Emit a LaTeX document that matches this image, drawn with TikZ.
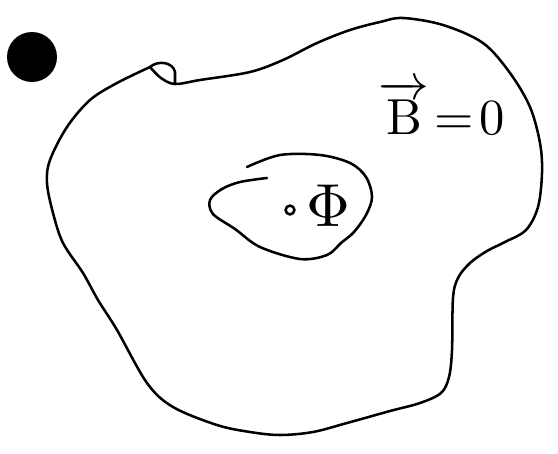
\documentclass[tikz,border=0pt]{standalone}
\usepackage{amsmath}
\usepackage{tikz}

\begin{document}
\begin{tikzpicture}[
    x=0.025cm, y=-0.025cm,
    curve/.style={line width=1.8pt, line cap=round, line join=round},
    label/.style={inner sep=0pt, scale=3.6},
    point/.style={circle, draw, line width=1.8pt, minimum size=0.22cm, inner sep=0pt}
]
\useasboundingbox (0,0) rectangle (558,453);

% black spot
\fill (32,57) circle (25);

% outer region
\draw[curve] plot[smooth, tension=0.55] coordinates {
    (150,67) (161,78) (175,84) (200,80) (250,72) (283,60) (317,43) (350,30)
    (380,22) (403,18) (443,25) (483,43) (510,73) (530,107) (540,143) (542,173)
    (538,207) (526,230) (505,242) (487,251) (470,263) (458,278) (453,298)
    (452,350) (449,377) (441,393) (420,403) (390,411) (347,423) (313,432)
    (280,435) (250,432) (217,425) (173,407) (147,383) (117,330) (98,300)
    (83,273) (63,243) (53,213) (47,183) (50,160) (67,127) (90,100) (117,83)
    (150,67)};
\draw[curve] (150,67) .. controls (158,60) and (173,62) .. (175,72) -- (175,84);

% inner region
\draw[curve] plot[smooth, tension=0.55] coordinates {
    (267,178) (240,182) (222,189) (210,200) (213,214) (235,229) (260,247)
    (300,259) (327,255) (341,243) (354,232) (366,215) (372,197) (366,177)
    (350,163) (320,155) (280,155) (247,167)};

\node[point] (core) at (290,210) {};
\node[label, scale=1.2] (flux) at (328,206) {$\Phi$};
\node[label] (field) at (442,108) {$\overrightarrow{\mathrm{B}}\!=\!0$};

\end{tikzpicture}
\end{document}
